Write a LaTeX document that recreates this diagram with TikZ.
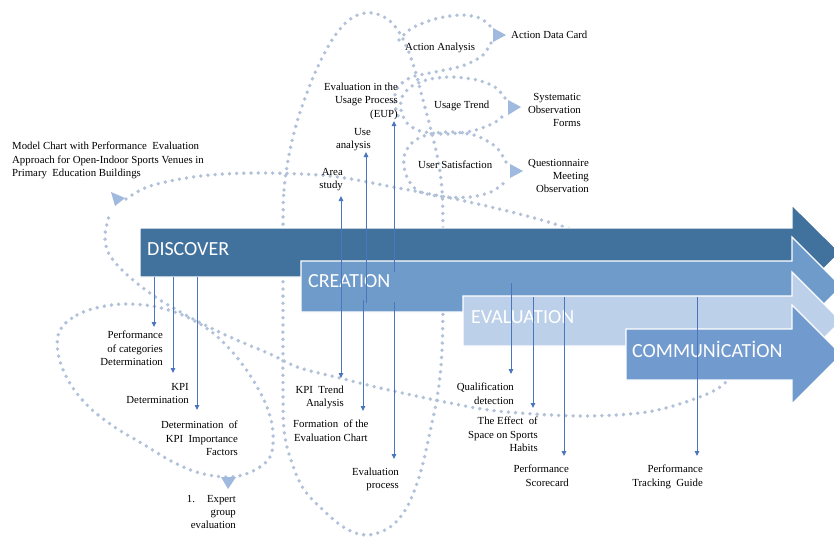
\documentclass[tikz,border=0pt]{standalone}
\usepackage{fontspec}
\setmainfont{Liberation Serif}
\newfontfamily\headfont{Carlito}
\usetikzlibrary{arrows.meta}
\definecolor{discc}{RGB}{65,113,157}
\definecolor{creac}{RGB}{111,155,203}
\definecolor{evalc}{RGB}{189,208,233}
\definecolor{commc}{RGB}{113,155,206}
\definecolor{dotc}{RGB}{178,193,218}
\definecolor{tric}{RGB}{160,185,222}
\definecolor{connc}{RGB}{74,118,189}
\begin{document}
\begin{tikzpicture}[x=1pt,y=-1pt,
 dotline/.style={dotc,line width=3.8pt,dash pattern=on 0pt off 7.2pt,line cap=round},
 blockarrow/.style={draw=white,line width=1.2pt},
 heading/.style={font=\headfont\fontsize{20}{24}\selectfont,text=white,inner sep=0,anchor=base west},
 lbl/.style={font=\fontsize{10.8}{13.2}\selectfont,inner sep=0,align=right},
 conn/.style={connc,line width=0.9pt,-{Triangle[length=5pt,width=4.5pt]}},
 conn2/.style={connc,line width=0.9pt,{Triangle[length=5pt,width=4.5pt]}-{Triangle[length=5pt,width=4.5pt]}},
 tri/.style={fill=tric}]
\useasboundingbox (0,0) rectangle (834,538);
\clip (0,0) rectangle (834,538);
\fill[white] (0,0) rectangle (834,538);

% dotted curves
\draw[dotline] plot[smooth,tension=0.55] coordinates {(126,199) (150,186) (200,176) (260,173) (330,176) (393,187) (460,200) (527,216) (580,232) (680,265) (745,305) (748,350) (725,383) (697,398) (647,412) (580,416) (497,411) (440,401) (380,388) (340,378) (300,368) (270,354) (230,337) (195,320) (160,300) (138,284) (120,268) (108,252) (105,235) (109,216)};
\draw[dotline] plot[smooth cycle,tension=0.6] coordinates {(60,330) (77,315) (100,307) (127,304) (157,307) (187,317) (213,333) (235,355) (253,380) (267,407) (273,433) (270,457) (253,471) (230,477) (200,473) (173,462) (143,444) (113,426) (87,405) (68,380) (58,353)};
\draw[dotline] plot[smooth cycle,tension=0.6] coordinates {(283,227) (284,190) (289,155) (297,122) (308,90) (320,62) (334,37) (349,20) (365,13) (380,15) (393,24) (404,41) (414,67) (423,100) (431,130) (438,160) (442,190) (443,230) (443,300) (442,350) (438,392) (430,432) (420,474) (407,507) (390,527) (367,535) (345,528) (322,509) (303,488) (291,460) (284,430) (283,380) (283,300)};
\draw[dotline] plot[smooth] coordinates {(399,40) (412,28) (435,19) (460,15) (480,18) (491,27)};
\draw[dotline] plot[smooth] coordinates {(491,43) (482,56) (462,66) (435,72) (412,77) (399,86) (394,100) (398,116)};
\draw[dotline] plot[smooth] coordinates {(505,98) (495,87) (477,80) (453,77) (430,79) (412,86) (402,97) (401,110) (407,123) (420,131) (445,134) (472,131) (494,123) (505,114)};
\draw[dotline] plot[smooth] coordinates {(506,162) (496,147) (477,136) (453,132) (430,134) (414,141) (405,153) (404,167) (409,181) (420,192) (445,197) (470,197) (491,192) (505,182)};

% triangles
\fill[tri] (111,192) -- (115,206) -- (125,198) -- cycle;
\fill[tri] (493,28) -- (493,42) -- (506,35) -- cycle;
\fill[tri] (508,100) -- (508,115) -- (521,107) -- cycle;
\fill[tri] (510,164) -- (510,178) -- (523,171) -- cycle;
\fill[tri] (221,477) -- (236,477) -- (228,489) -- cycle;

% block arrows
\path[blockarrow,fill=discc] (140,228) -- (792,228) -- (792,205) -- (840,252.5) -- (792,300) -- (792,277) -- (140,277) -- cycle;
\path[blockarrow,fill=creac] (301,261) -- (792,261) -- (792,237) -- (841.5,286.5) -- (792,336) -- (792,312) -- (301,312) -- cycle;
\path[blockarrow,fill=evalc] (463,296) -- (792,296) -- (792,272) -- (841,321) -- (792,370) -- (792,346) -- (463,346) -- cycle;
\path[blockarrow,fill=commc] (626,329) -- (792,329) -- (792,305) -- (841.5,354.5) -- (792,404) -- (792,380) -- (626,380) -- cycle;
\node[heading] (disc) at (147,255) {DISCOVER};
\node[heading] (crea) at (308,287) {CREATION};
\node[heading] (eval) at (471,323) {EVALUATION};
\node[heading] (comm) at (632,357) {COMMUNİCATİON};

% labels
\node[lbl,align=left,anchor=north west] (model) at (12,142) {Model Chart with Performance\ \ Evaluation\\Approach for Open-Indoor Sports Venues in\\Primary\ \ Education Buildings};
\node[lbl,anchor=north west] (actan) at (405,43) {Action Analysis};
\node[lbl,anchor=north west] (actdata) at (511,31) {Action Data Card};
\node[lbl,anchor=north east] (eup) at (398,83) {Evaluation in the\\Usage Process\\(EUP)};
\node[lbl,anchor=north east] (use) at (371,128) {Use\\analysis};
\node[lbl,anchor=north east] (area) at (343,168) {Area\\study};
\node[lbl,anchor=north west] (usage) at (434,101) {Usage Trend};
\node[lbl,anchor=north east] (syst) at (581,93) {Systematic\\Observation\\Forms};
\node[lbl,anchor=north west] (usersat) at (418,161) {User Satisfaction};
\node[lbl,anchor=north east] (quest) at (589,159) {Questionnaire\\Meeting\\Observation};
\node[lbl,anchor=north east] (perf) at (163,331) {Performance\\of categories\\Determination};
\node[lbl,anchor=north east] (kpid) at (189,383) {KPI\\Determination};
\node[lbl,anchor=north east] (detkpi) at (238,421) {Determination\ \ of\\KPI\ \ Importance\\Factors};
\node[lbl,anchor=north east] (expert) at (236,495) {1.\hspace{12pt}Expert\\group\\evaluation};
\node[lbl,anchor=north east] (kpit) at (344,386) {KPI\ \ Trend\\Analysis};
\node[lbl,align=center,anchor=north west] (form) at (293,420) {Formation\ \ of the\\Evaluation Chart};
\node[lbl,anchor=north east] (evalp) at (399,468) {Evaluation\\process};
\node[lbl,anchor=north east] (qual) at (514,383) {Qualification\\detection};
\node[lbl,anchor=north east] (effect) at (538,417) {The Effect\ \ of\\Space on Sports\\Habits};
\node[lbl,anchor=north east] (perfsc) at (569,465) {Performance\\Scorecard};
\node[lbl,anchor=north east] (perftr) at (703,465) {Performance\\Tracking\ \ Guide};

% connector end points
\coordinate (c1s) at (154,277); \coordinate (c1e) at (154,327);
\coordinate (c2s) at (173,277); \coordinate (c2e) at (173,373);
\coordinate (c3s) at (197,277); \coordinate (c3e) at (197,410);
\coordinate (c4s) at (341,196); \coordinate (c4e) at (341,378);
\coordinate (c5s) at (366,303); \coordinate (c5e) at (366,152);
\coordinate (c6s) at (363,300); \coordinate (c6e) at (363,411);
\coordinate (c7s) at (394,272); \coordinate (c7e) at (394,121);
\coordinate (c8s) at (394,302); \coordinate (c8e) at (394,459);
\coordinate (c9s) at (511,283); \coordinate (c9e) at (511,374);
\coordinate (c10s) at (533,297); \coordinate (c10e) at (533,408);
\coordinate (c11s) at (564,297); \coordinate (c11e) at (564,456);
\coordinate (c12s) at (697,297); \coordinate (c12e) at (697,456);
\draw[conn] (c1s) -- (c1e);
\draw[conn] (c2s) -- (c2e);
\draw[conn] (c3s) -- (c3e);
\draw[conn2] (c4s) -- (c4e);
\draw[conn] (c5s) -- (c5e);
\draw[conn] (c6s) -- (c6e);
\draw[conn] (c7s) -- (c7e);
\draw[conn] (c8s) -- (c8e);
\draw[conn] (c9s) -- (c9e);
\draw[conn] (c10s) -- (c10e);
\draw[conn] (c11s) -- (c11e);
\draw[conn] (c12s) -- (c12e);
\end{tikzpicture}
\end{document}
